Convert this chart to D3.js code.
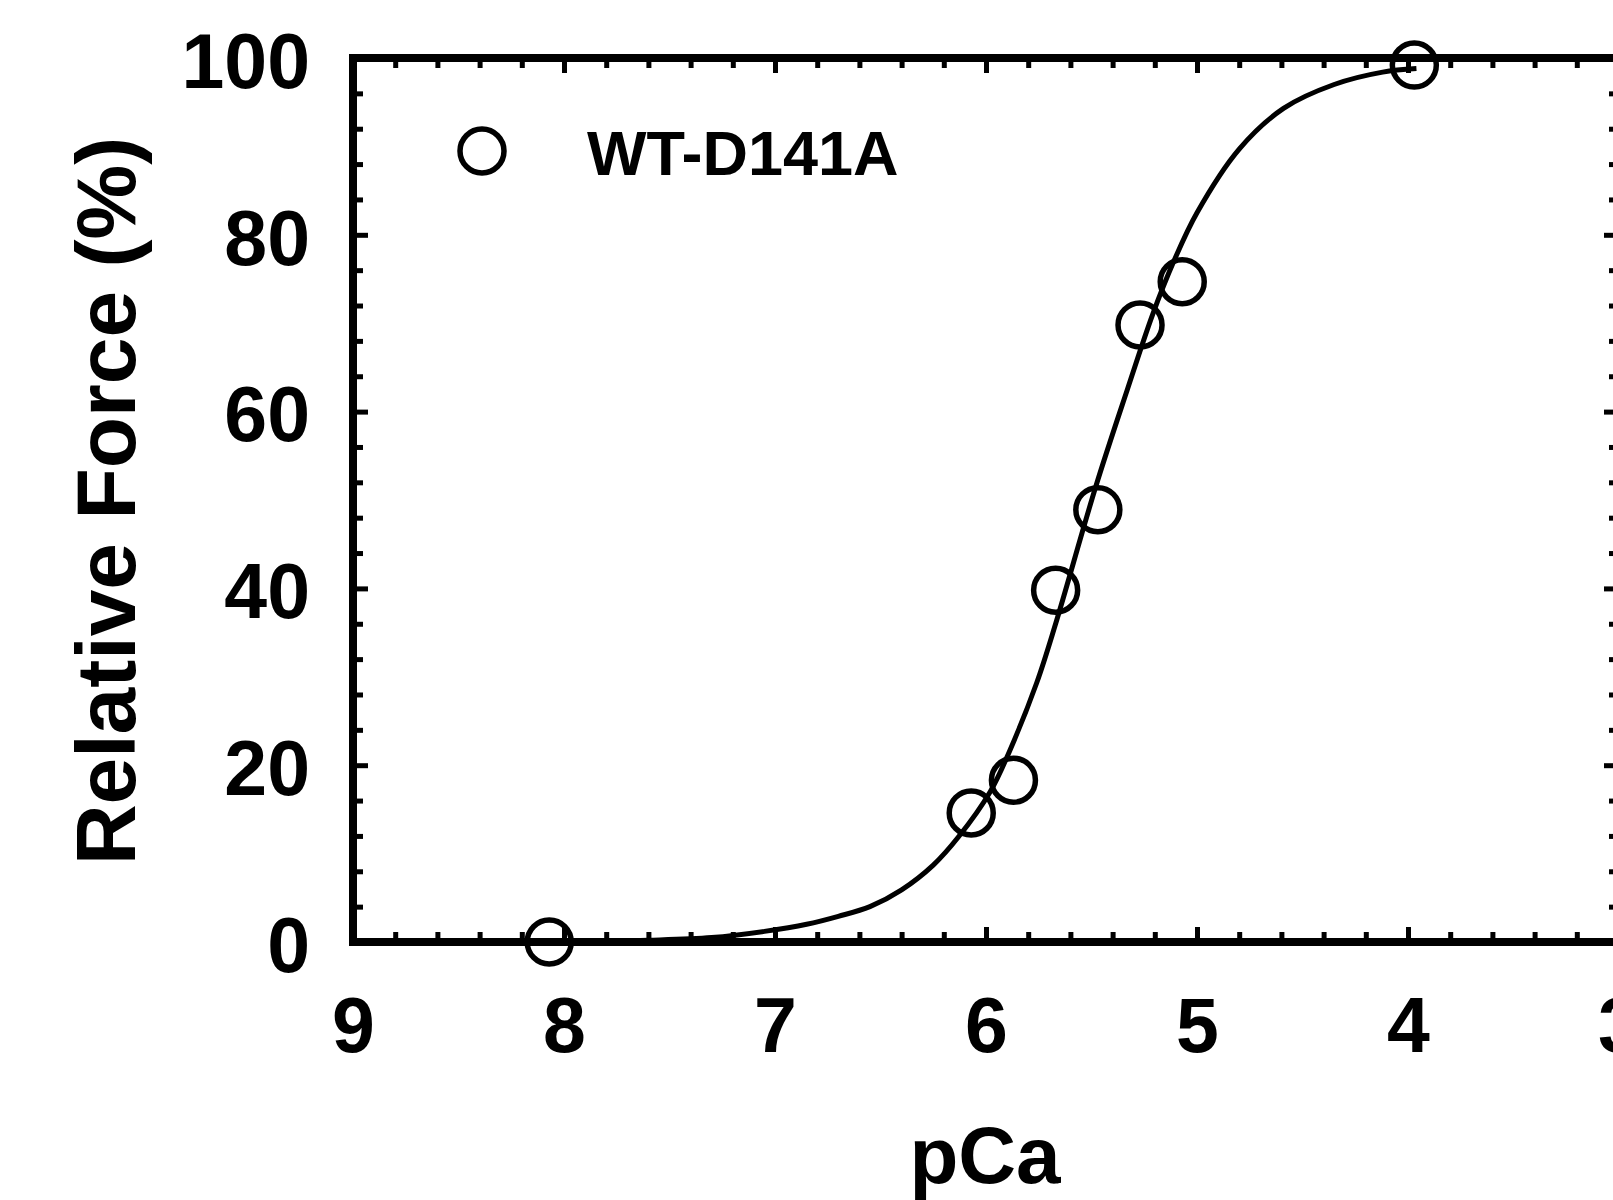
<!DOCTYPE html>
<html>
<head>
<meta charset="utf-8">
<script src="https://cdn.jsdelivr.net/npm/d3@7"></script>
<style>
  body { margin: 0; background: #fff; }
  text { font-family: "Liberation Sans", Arial, sans-serif; font-weight: bold; fill: #000; }
</style>
</head>
<body>
<svg id="chart" width="1613" height="1200"></svg>
<script>
// Measured points (pCa, relative force %)
const pointPCa = [8.07, 6.07, 5.87, 5.67, 5.47, 5.27, 5.07, 3.97];
const pointForce = [0, 14.6, 18.3, 39.8, 48.9, 69.8, 74.7, 99.2];

// Fitted curve
const curvePCa = [8.07, 7.6, 7.3, 7.05, 6.85, 6.7, 6.55, 6.4, 6.25, 6.13, 5.98, 5.89, 5.76, 5.67, 5.48, 5.33, 5.21, 5.11, 5.0, 4.8, 4.59, 4.35, 4.12, 3.96];
const curveForce = [0, 0.2, 0.5, 1.2, 2.0, 2.9, 4.0, 5.9, 8.7, 11.9, 17.0, 21.5, 29.3, 36.0, 51.5, 62.5, 71.0, 77.0, 82.5, 89.7, 94.3, 97.0, 98.4, 98.8];

const xTicks = [9, 8, 7, 6, 5, 4, 3];
const yTicks = [0, 20, 40, 60, 80, 100];
const seriesName = "WT-D141A";

const svg = d3.select("#chart");
svg.append("rect").attr("width", 1613).attr("height", 1200).attr("fill", "#fff");

const x = d3.scaleLinear().domain([9, 3]).range([353, 1619]);
const y = d3.scaleLinear().domain([0, 100]).range([942, 58]);

// minor ticks: 0.2 pCa and 4 %
const xMinor = d3.range(9, 3, -0.2).map(d => +d.toFixed(1)).filter(d => !xTicks.includes(d));
const yMinor = d3.range(0, 100, 4).filter(d => !yTicks.includes(d));

function styleAxis(g) {
  g.select(".domain").remove();
  g.selectAll(".tick line").attr("stroke", "#000").attr("stroke-width", 5);
}

// bottom axis with labels
svg.append("g")
  .attr("transform", `translate(0,${y(0)})`)
  .call(d3.axisBottom(x).tickValues(xTicks).tickSize(-15).tickFormat(d3.format("d")))
  .call(styleAxis)
  .call(g => g.selectAll("text")
    .attr("y", 110).attr("dy", 0)
    .style("font-size", "77px"));
svg.append("g")
  .attr("transform", `translate(0,${y(0)})`)
  .call(d3.axisBottom(x).tickValues(xMinor).tickSize(-10).tickFormat(""))
  .call(styleAxis);

// top axis
svg.append("g")
  .attr("transform", `translate(0,${y(100)})`)
  .call(d3.axisTop(x).tickValues(xTicks).tickSize(-15).tickFormat(""))
  .call(styleAxis);
svg.append("g")
  .attr("transform", `translate(0,${y(100)})`)
  .call(d3.axisTop(x).tickValues(xMinor).tickSize(-10).tickFormat(""))
  .call(styleAxis);

// left axis with labels
svg.append("g")
  .attr("transform", `translate(${x(9)},0)`)
  .call(d3.axisLeft(y).tickValues(yTicks).tickSize(-15).tickPadding(43).tickFormat(d3.format("d")))
  .call(styleAxis)
  .call(g => g.selectAll("text")
    .attr("dy", "0.38em")
    .style("font-size", "77px"));
svg.append("g")
  .attr("transform", `translate(${x(9)},0)`)
  .call(d3.axisLeft(y).tickValues(yMinor).tickSize(-10).tickFormat(""))
  .call(styleAxis);

// right axis
svg.append("g")
  .attr("transform", `translate(${x(3)},0)`)
  .call(d3.axisRight(y).tickValues(yTicks).tickSize(-15).tickFormat(""))
  .call(styleAxis);
svg.append("g")
  .attr("transform", `translate(${x(3)},0)`)
  .call(d3.axisRight(y).tickValues(yMinor).tickSize(-10).tickFormat(""))
  .call(styleAxis);

// frame
svg.append("rect")
  .attr("x", x(9)).attr("y", y(100))
  .attr("width", x(3) - x(9)).attr("height", y(0) - y(100))
  .attr("fill", "none").attr("stroke", "#000").attr("stroke-width", 8);

// fitted curve
const line = d3.line()
  .x((d, i) => x(curvePCa[i]))
  .y(d => y(d))
  .curve(d3.curveCatmullRom.alpha(0.5));
svg.append("path")
  .datum(curveForce)
  .attr("d", line)
  .attr("fill", "none")
  .attr("stroke", "#000")
  .attr("stroke-width", 5);

// data points
svg.selectAll(".pt")
  .data(pointForce)
  .join("circle")
  .attr("class", "pt")
  .attr("cx", (d, i) => x(pointPCa[i]))
  .attr("cy", d => y(d))
  .attr("r", 22)
  .attr("fill", "none")
  .attr("stroke", "#000")
  .attr("stroke-width", 5.5);

// legend
svg.append("circle")
  .attr("cx", 482).attr("cy", 151).attr("r", 22)
  .attr("fill", "none").attr("stroke", "#000").attr("stroke-width", 5.5);
svg.append("text")
  .attr("x", 587).attr("y", 175)
  .style("font-size", "63px")
  .text(seriesName);

// axis titles
svg.append("text")
  .attr("x", 985).attr("y", 1183)
  .attr("text-anchor", "middle")
  .style("font-size", "80px")
  .text("pCa");
svg.append("text")
  .attr("transform", "translate(135,501) rotate(-90)")
  .attr("text-anchor", "middle")
  .style("font-size", "84px")
  .text("Relative Force (%)");
</script>
</body>
</html>
